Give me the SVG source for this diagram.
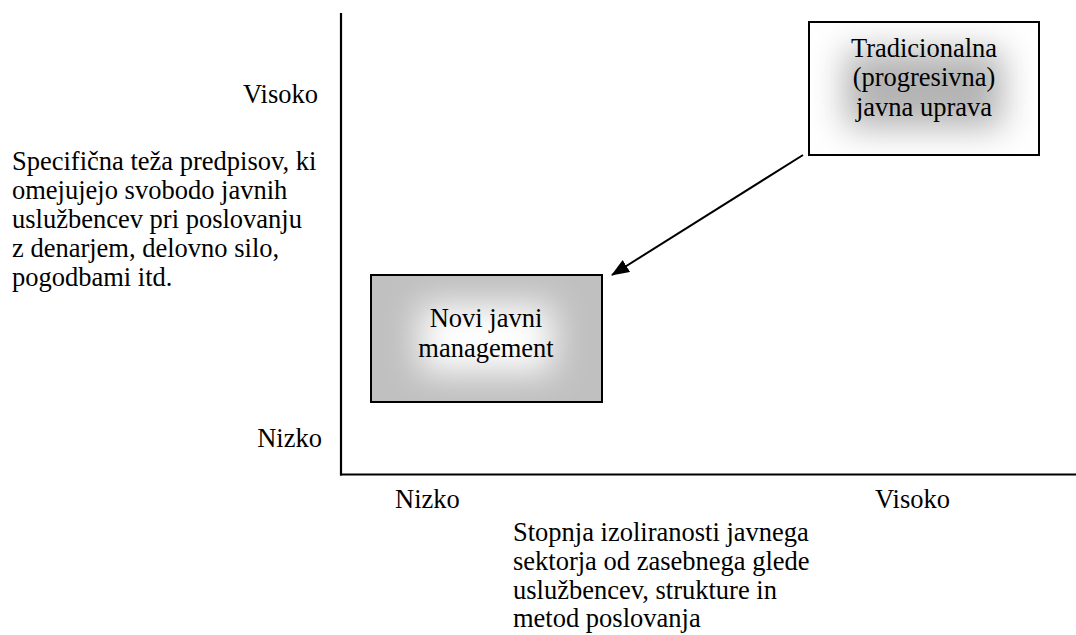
<svg xmlns="http://www.w3.org/2000/svg" width="1076" height="635" viewBox="0 0 1076 635">
<defs>
<style>
text{font-family:"Liberation Serif","Times New Roman",serif;font-size:26.5px;fill:#000}
.mid{text-anchor:middle}
.end{text-anchor:end}
.box{stroke:#000;stroke-width:2;fill:none}
.axis{stroke:#000;stroke-width:2.2;fill:none}
.conn{stroke:#000;stroke-width:2;fill:none}
</style>
<filter id="soft" x="-50%" y="-50%" width="200%" height="200%">
<feGaussianBlur stdDeviation="17"/>
</filter>
<clipPath id="cTop"><rect x="809" y="22" width="230" height="133"/></clipPath>
<clipPath id="cBot"><rect x="371" y="275" width="231" height="127"/></clipPath>
<marker id="arr" markerWidth="18" markerHeight="14" refX="17" refY="7" orient="auto" markerUnits="userSpaceOnUse">
<path d="M0,0 L18,7 L0,14 Z" fill="#000"/>
</marker>
</defs>
<g id="axes">
<line class="axis" x1="341" y1="13" x2="341" y2="475.5"/>
<line class="axis" x1="340" y1="474.5" x2="1076" y2="474.5"/>
</g>
<g id="labels">
<text x="318" y="103" class="end">Visoko</text>
<text x="322" y="447" class="end">Nizko</text>
<text x="395" y="508">Nizko</text>
<text x="875" y="508">Visoko</text>
<text x="12" y="170">Specifična teža predpisov, ki</text>
<text x="12" y="199">omejujejo svobodo javnih</text>
<text x="12" y="228">uslužbencev pri poslovanju</text>
<text x="12" y="257">z denarjem, delovno silo,</text>
<text x="12" y="286">pogodbami itd.</text>
<text x="513" y="541">Stopnja izoliranosti javnega</text>
<text x="513" y="570">sektorja od zasebnega glede</text>
<text x="513" y="599">uslužbencev, strukture in</text>
<text x="513" y="627">metod poslovanja</text>
</g>
<g id="node-tradicionalna">
<rect x="809" y="22" width="230" height="133" fill="#ffffff"/>
<g clip-path="url(#cTop)">
<rect x="845" y="50" width="158" height="78" fill="#b4b4b4" filter="url(#soft)"/>
</g>
<rect class="box" x="809" y="22" width="230" height="133"/>
<text x="924" y="57" class="mid">Tradicionalna</text>
<text x="924" y="86" class="mid">(progresivna)</text>
<text x="924" y="116" class="mid">javna uprava</text>
</g>
<g id="node-novi">
<rect x="371" y="275" width="231" height="127" fill="#c0c0c0"/>
<g clip-path="url(#cBot)">
<rect x="420" y="305" width="133" height="67" fill="#ffffff" filter="url(#soft)"/>
</g>
<rect class="box" x="371" y="275" width="231" height="127"/>
<text x="486" y="327" class="mid">Novi javni</text>
<text x="486" y="357" class="mid">management</text>
</g>
<g id="connectors">
<line class="conn" x1="803" y1="155" x2="612" y2="275" marker-end="url(#arr)"/>
</g>
</svg>
